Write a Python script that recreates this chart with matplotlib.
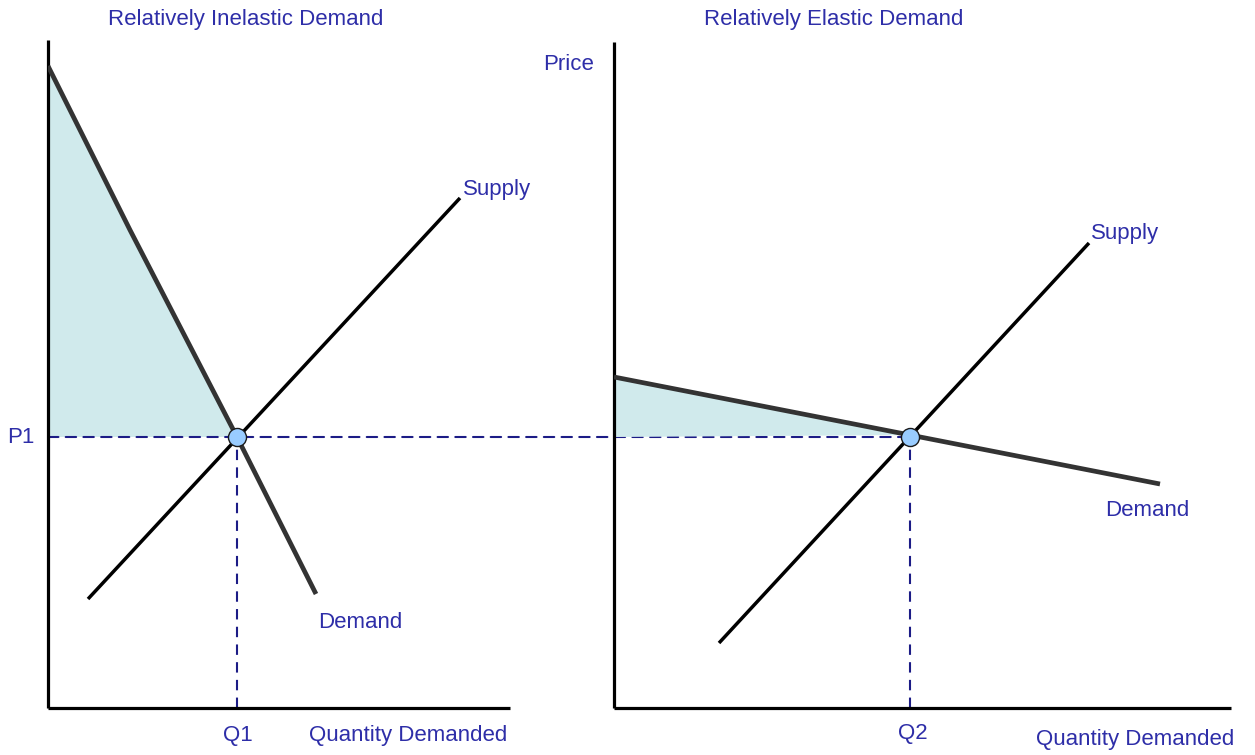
import matplotlib
matplotlib.use("Agg")
import matplotlib.pyplot as plt
from matplotlib.patches import ConnectionPatch

# ---------------- data (arbitrary price / quantity units) ----------------
# Left panel: relatively inelastic demand
left_demand_q = [0.0, 8.2, 18.9, 26.8]
left_demand_p = [64.2, 47.8, 27.1, 11.4]
left_supply_q = [4.0, 41.2]
left_supply_p = [10.9, 51.0]
q1 = 18.9
p1 = 27.1

# Right panel: relatively elastic demand
right_demand_q = [0.0, 54.6]
right_demand_p = [33.1, 22.4]
right_supply_q = [10.5, 47.5]
right_supply_p = [6.5, 46.5]
q2 = 29.6

left_xlim = (0, 46.2)
left_ylim = (0, 66.8)
right_xlim = (0, 61.7)
right_ylim = (0, 66.6)

titles = ["Relatively Inelastic Demand", "Relatively Elastic Demand"]

# ---------------- styling ----------------
W, H = 1255, 755
fig = plt.figure(figsize=(W / 100, H / 100), dpi=100)
fig.patch.set_facecolor("white")
plt.rcParams["font.family"] = ["Liberation Sans", "DejaVu Sans"]

TXT = "#2e2ea8"
DASH = "#1c1c86"
FILL = "#d0eaec"
DEM = "#333333"
MARK_FACE = "#99ccff"
DASHES = (0, (5, 3.5))


def rect(x0, y0, x1, y1):
    """pixel box (top-left origin) -> figure fraction rect"""
    return [x0 / W, 1 - y1 / H, (x1 - x0) / W, (y1 - y0) / H]


def fp(x, y):
    return x / W, 1 - y / H


ax1 = fig.add_axes(rect(48, 40, 510, 708))
ax2 = fig.add_axes(rect(614, 42, 1231, 708))

for ax, xl, yl in ((ax1, left_xlim, left_ylim), (ax2, right_xlim, right_ylim)):
    ax.set_xlim(*xl)
    ax.set_ylim(*yl)
    ax.set_facecolor("none")
    ax.spines["top"].set_visible(False)
    ax.spines["right"].set_visible(False)
    for s in ("left", "bottom"):
        ax.spines[s].set_linewidth(2.3)
        ax.spines[s].set_color("black")
        ax.spines[s].set_capstyle("butt")
    ax.set_xticks([])
    ax.set_yticks([])

# ---- left panel ----
fq = [q for q, p in zip(left_demand_q, left_demand_p) if p >= p1]
fpp = [p for q, p in zip(left_demand_q, left_demand_p) if p >= p1]
ax1.fill(fq + [0.0], fpp + [p1], color=FILL, lw=0, zorder=1)
ax1.plot(left_supply_q, left_supply_p, color="black", lw=2.5, zorder=3,
         solid_capstyle="butt")
ax1.plot(left_demand_q, left_demand_p, color=DEM, lw=3.4, zorder=3,
         solid_capstyle="butt", solid_joinstyle="round")
ax1.plot([q1, q1], [0, p1], color=DASH, lw=1.5, ls=DASHES, zorder=2)
ax1.plot([q1], [p1], "o", ms=13, mfc=MARK_FACE, mec="#1a1a1a", mew=1.0,
         zorder=6, clip_on=False)

# ---- right panel ----
p_dem_at_q2 = right_demand_p[0] + (right_demand_p[1] - right_demand_p[0]) * q2 / right_demand_q[1]
ax2.fill([0.0, q2, 0.0], [right_demand_p[0], p_dem_at_q2, p1],
         color=FILL, lw=0, zorder=1)
ax2.plot(right_supply_q, right_supply_p, color="black", lw=2.5, zorder=3,
         solid_capstyle="butt")
ax2.plot(right_demand_q, right_demand_p, color=DEM, lw=3.4, zorder=3,
         solid_capstyle="butt")
ax2.plot([q2, q2], [0, p1], color=DASH, lw=1.5, ls=DASHES, zorder=2)
ax2.plot([q2], [p1], "o", ms=13, mfc=MARK_FACE, mec="#1a1a1a", mew=1.0,
         zorder=6, clip_on=False)

# P1 dashed line spanning both panels
con = ConnectionPatch(xyA=(0, p1), coordsA=ax1.transData,
                      xyB=(q2, p1), coordsB=ax2.transData,
                      color=DASH, lw=1.5, linestyle=DASHES,
                      arrowstyle="-", shrinkA=0, shrinkB=0, zorder=2)
con.set_clip_on(False)
ax1.add_artist(con)

# ---------------- text ----------------
fs = 16
fig.text(*fp(246, 20), titles[0], color=TXT, fontsize=fs, ha="center", va="center")
fig.text(*fp(834, 20), titles[1], color=TXT, fontsize=fs, ha="center", va="center")
fig.text(*fp(569, 65), "Price", color=TXT, fontsize=fs, ha="center", va="center")
fig.text(*fp(21, 437), "P1", color=TXT, fontsize=fs, ha="center", va="center")
fig.text(*fp(238, 735), "Q1", color=TXT, fontsize=fs, ha="center", va="center")
fig.text(*fp(408, 736), "Quantity Demanded", color=TXT, fontsize=fs, ha="center", va="center")
fig.text(*fp(913, 734), "Q2", color=TXT, fontsize=fs, ha="center", va="center")
fig.text(*fp(1135, 740), "Quantity Demanded", color=TXT, fontsize=fs, ha="center", va="center")
fig.text(*fp(463, 189), "Supply", color=TXT, fontsize=fs, ha="left", va="center")
fig.text(*fp(318, 623), "Demand", color=TXT, fontsize=fs, ha="left", va="center")
fig.text(*fp(1091, 234), "Supply", color=TXT, fontsize=fs, ha="left", va="center")
fig.text(*fp(1105, 511), "Demand", color=TXT, fontsize=fs, ha="left", va="center")

fig.savefig("out.png", dpi=100, facecolor="white")
